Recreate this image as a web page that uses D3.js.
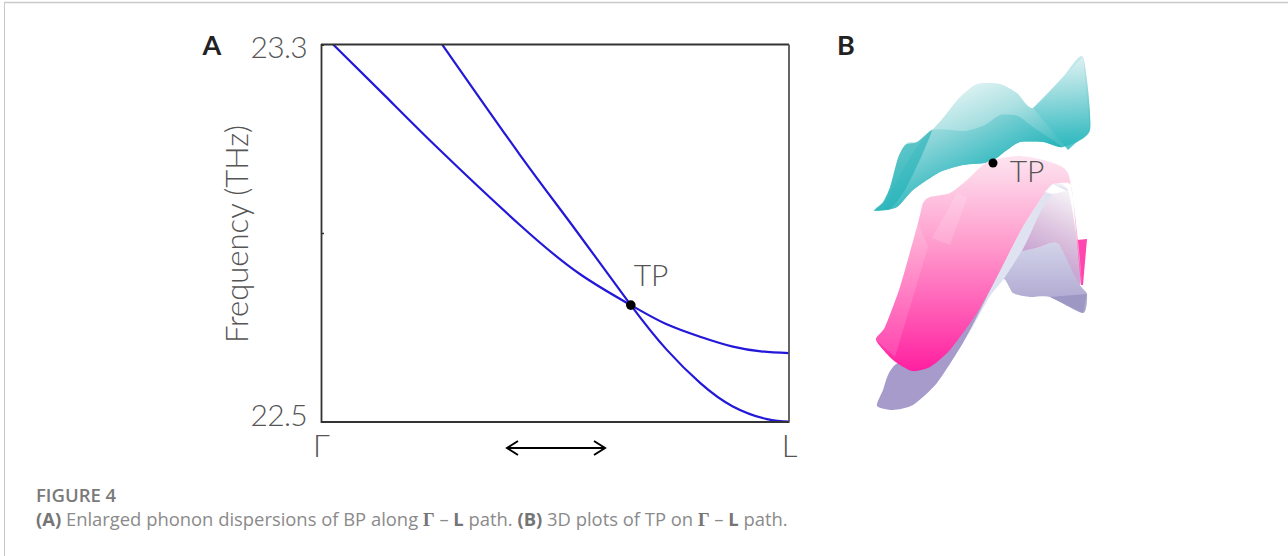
<!DOCTYPE html>
<html>
<head>
<meta charset="utf-8">
<script src="https://cdn.jsdelivr.net/npm/d3@7"></script>
<style>
  html, body { margin: 0; padding: 0; background: #fff; }
  svg { display: block; }
  text { font-family: Lato, "Open Sans", sans-serif; }
  .thin { font-weight: 300; fill: #555; }
  .caption { font-family: "Open Sans", sans-serif; }
</style>
</head>
<body>
<div id="chart"></div>
<script>
// panel A: the two bands, k along the path (0 = gamma, 1 = L) and frequency in THz
const bandUpperK = [0.026, 0.137, 0.254, 0.425, 0.553, 0.662, 0.735, 0.810, 0.880, 0.940, 1];
const bandUpperF = [23.3, 23.191, 23.076, 22.917, 22.813, 22.747, 22.708, 22.680, 22.659, 22.649, 22.645];
const bandLowerK = [0.259, 0.425, 0.543, 0.662, 0.739, 0.810, 0.880, 0.953, 1];
const bandLowerF = [23.3, 23.066, 22.908, 22.747, 22.652, 22.582, 22.532, 22.505, 22.5];
const tpK = 0.662, tpF = 22.747;
const yTicks = [22.5, 22.9, 23.3];
const yTickLabels = ["22.5", "", "23.3"];
const xTicks = [0, 1];
const xTickLabels = ["Γ", "L"];

// panel B: outlines of the 3D surfaces, in panel units
const tealBack = [[874,211],[897,207],[913,190],[940,172],[963,165],[990,162],[1007,150],[1020,142],[1043,142],[1063,147],[1090,130],[1083,57],[1063,77],[1033,108],[1017,93],[1000,84],[977,84],[960,97],[943,118],[932,130],[917,142],[907,143],[898,158],[890,187],[883,202]];
const tealMid = [[932,130],[965,131],[985,125],[1000,115],[1018,116],[1033,127],[1062,147],[1043,142],[1020,142],[1007,150],[990,162],[963,165],[940,172],[913,190],[897,207],[885,208],[900,175],[915,150]];
const tealFront = [[905,145],[917,142],[932,130],[922,155],[905,190],[890,209],[876,210],[884,202],[891,185],[898,158]];
const tealRight = [[1033,108],[1083,57],[1090,130],[1068,150],[1058,138]];
const lavender = [[877,406],[893,410],[913,405],[937,383],[963,343],[1000,279],[1013,293],[1030,297],[1050,297],[1083,313],[1087,294],[1080,285],[1058,244],[1037,248],[1015,250],[1000,265],[985,285],[940,330],[893,367],[883,390]];
const lavenderFlap = [[1050,297],[1087,294],[1083,313]];
const mauve = [[1053,184],[1068,190],[1077,240],[1080,285],[1058,244],[1037,248],[1015,250],[1037,213]];
const stripe = [[967,337],[997,277],[1023,227],[1047,190],[1053,184],[1068,190],[1052,195],[1040,213],[1024,247],[1003,280],[990,296]];
const stripeTip = [[1045,192],[1053,184],[1067,191],[1052,194]];
const pink = [[876,340],[893,360],[912,371],[930,367],[950,350],[977,313],[997,277],[1023,227],[1047,190],[1053,184],[1068,183],[1072,190],[1077,240],[1082,285],[1078,240],[1068,173],[1043,160],[1017,156],[987,162],[967,180],[950,193],[930,197],[923,203],[918,223],[900,287],[885,327]];
const pinkFlap = [[1077,240],[1087,239],[1083,285],[1081,285]];
const pinkPatch = [[957,193],[967,198],[950,245],[932,238]];
const pinkStripe = [[876,340],[918,223],[928,247],[895,357]];

const captionTitle = "FIGURE 4";

const width = 1288, height = 556;
const margin = {left: 321, right: 499, top: 44.5, bottom: 134.5};

const svg = d3.select("#chart").append("svg")
    .attr("width", width)
    .attr("height", height);

// page rules
svg.append("line").attr("x1", 4.5).attr("x2", 4.5).attr("y1", 2).attr("y2", height).attr("stroke", "#c9c9c9");
svg.append("line").attr("x1", 4).attr("x2", width).attr("y1", 2.5).attr("y2", 2.5).attr("stroke", "#c9c9c9").attr("stroke-width", 1.5);

const x = d3.scaleLinear().domain([0, 1]).range([margin.left, width - margin.right]);
const y = d3.scaleLinear().domain([22.5, 23.3]).range([height - margin.bottom, margin.top]);

const line = d3.line()
    .x(d => x(d[0]))
    .y(d => y(d[1]))
    .curve(d3.curveNatural);

svg.append("path").datum(d3.zip(bandUpperK, bandUpperF))
    .attr("d", line).attr("fill", "none").attr("stroke", "#2318d8").attr("stroke-width", 2.2);
svg.append("path").datum(d3.zip(bandLowerK, bandLowerF))
    .attr("d", line).attr("fill", "none").attr("stroke", "#2318d8").attr("stroke-width", 2.2);

// frame
const yAxis = d3.axisLeft(y).tickValues(yTicks).tickSize(-3).tickPadding(14)
    .tickFormat((d, i) => yTickLabels[i]);
const xAxis = d3.axisBottom(x).tickValues(xTicks).tickSize(0).tickPadding(13)
    .tickFormat((d, i) => xTickLabels[i]);

const gy = svg.append("g").attr("transform", `translate(${margin.left},0)`).call(yAxis);
const gx = svg.append("g").attr("transform", `translate(0,${height - margin.bottom})`).call(xAxis);
gy.select(".domain").attr("stroke", "#333").attr("stroke-width", 1.8);
gx.select(".domain").attr("stroke", "#333").attr("stroke-width", 1.8);
gy.selectAll(".tick line").attr("stroke", "#333").attr("stroke-width", 1.5);
gy.selectAll("text").attr("class", "thin").style("font-size", "30px").style("letter-spacing", "-0.7px").attr("fill", null)
    .attr("dy", d => d === 23.3 ? "0.42em" : "0.13em");
gx.selectAll("text").attr("class", "thin").style("font-size", "31px").attr("fill", null);

svg.append("line").attr("x1", x(0)).attr("x2", x(1)).attr("y1", y(23.3)).attr("y2", y(23.3))
    .attr("stroke", "#333").attr("stroke-width", 1.8);
svg.append("line").attr("x1", x(1)).attr("x2", x(1)).attr("y1", y(23.3)).attr("y2", y(22.5))
    .attr("stroke", "#555").attr("stroke-width", 1.8);

svg.append("text").attr("class", "thin")
    .attr("transform", `translate(248,234) rotate(-90)`)
    .attr("text-anchor", "middle")
    .style("font-size", "31px")
    .text("Frequency (THz)");

svg.append("circle").attr("cx", x(tpK)).attr("cy", y(tpF)).attr("r", 4.8).attr("fill", "#000");
svg.append("text").attr("class", "thin").attr("x", 651).attr("y", 286)
    .attr("text-anchor", "middle").style("font-size", "30px").text("TP");

// arrow under the axis
const defs = svg.append("defs");
svg.append("path")
    .attr("d", d3.line()([[507, 448], [605, 448]]))
    .attr("stroke", "#000").attr("stroke-width", 2).attr("fill", "none");
svg.append("path")
    .attr("d", d3.line()([[518, 441], [507, 448], [518, 455]]))
    .attr("stroke", "#000").attr("stroke-width", 2).attr("fill", "none");
svg.append("path")
    .attr("d", d3.line()([[594, 441], [605, 448], [594, 455]]))
    .attr("stroke", "#000").attr("stroke-width", 2).attr("fill", "none");

svg.append("text").attr("x", 212).attr("y", 55).attr("text-anchor", "middle")
    .style("font-size", "27px").style("font-weight", 700).attr("fill", "#222").text("A");
svg.append("text").attr("x", 846).attr("y", 55).attr("text-anchor", "middle")
    .style("font-size", "27px").style("font-weight", 700).attr("fill", "#222").text("B");

// panel B surfaces
function grad(id, x1, y1, x2, y2, stops) {
    const g = defs.append("linearGradient").attr("id", id)
        .attr("gradientUnits", "userSpaceOnUse")
        .attr("x1", x1).attr("x2", x2).attr("y1", y1).attr("y2", y2);
    stops.forEach(s => g.append("stop").attr("offset", s[0]).attr("stop-color", s[1]));
}
grad("gTealBack", 950, 85, 985, 170, [[0, "#e6f5f5"], [0.5, "#a8dfe1"], [1, "#45bfc4"]]);
grad("gTealMid", 950, 115, 985, 185, [[0, "#a0dbde"], [0.6, "#52c3c8"], [1, "#1fb2b8"]]);
grad("gTealRight", 0, 57, 0, 150, [[0, "#e3f3f4"], [1, "#22b5bb"]]);
grad("gLav", 0, 245, 0, 320, [[0, "#d0d2e8"], [1, "#a69bca"]]);
grad("gMauve", 1060, 190, 1030, 250, [[0, "#f4f0f6"], [0.6, "#dcc2de"], [1, "#cba8d3"]]);
grad("gPink", 0, 158, 0, 372, [[0, "#fde3ef"], [0.4, "#ff9ccd"], [1, "#ff1fa0"]]);

const area = d3.line().curve(d3.curveCardinalClosed.tension(0.35));
const poly = d3.line().curve(d3.curveLinearClosed);
function surface(points, fill, smooth, opacity) {
    svg.append("path").attr("d", (smooth ? area : poly)(points))
        .attr("fill", fill).attr("fill-opacity", opacity === undefined ? 1 : opacity);
}
surface(tealBack, "url(#gTealBack)", true);
surface(tealMid, "url(#gTealMid)", true, 0.9);
surface(tealRight, "url(#gTealRight)", false, 0.8);
surface(tealFront, "#1fb0b6", true, 0.6);
surface(lavender, "url(#gLav)", true);
surface(lavenderFlap, "#9d97c4", false);
surface(mauve, "url(#gMauve)", true);
surface(pinkFlap, "#ff45ae", false);
surface(pink, "url(#gPink)", true);
surface(pinkPatch, "#fff", false, 0.14);
surface(pinkStripe, "#fff", false, 0.12);
surface(stripe, "#dfe2f1", true);
surface(stripeTip, "#fff", false);

svg.append("circle").attr("cx", 993).attr("cy", 163).attr("r", 4.5).attr("fill", "#000");
svg.append("text").attr("class", "thin").attr("x", 1027).attr("y", 182)
    .attr("text-anchor", "middle").style("font-size", "30px").text("TP");

// caption
svg.append("text").attr("class", "caption").attr("x", 36).attr("y", 502)
    .style("font-size", "18.5px").style("font-weight", 600).attr("fill", "#7a7a7a").text(captionTitle);

const cap = svg.append("text").attr("class", "caption").attr("x", 36).attr("y", 526)
    .style("font-size", "18.4px").attr("fill", "#8a8a8a");
const runs = [
    ["(A)", "b"], [" Enlarged phonon dispersions of BP along ", ""], ["Γ", "s"], [" – ", ""], ["L", "b"],
    [" path. ", ""], ["(B)", "b"], [" 3D plots of TP on ", ""], ["Γ", "s"], [" – ", ""], ["L", "b"], [" path.", ""]
];
runs.forEach(r => {
    cap.append("tspan").text(r[0])
        .style("font-weight", r[1] === "b" || r[1] === "s" ? 700 : 400)
        .style("font-family", r[1] === "s" ? '"Liberation Serif", serif' : null)
        .attr("fill", r[1] === "" ? "#8a8a8a" : "#757575");
});
</script>
</body>
</html>
